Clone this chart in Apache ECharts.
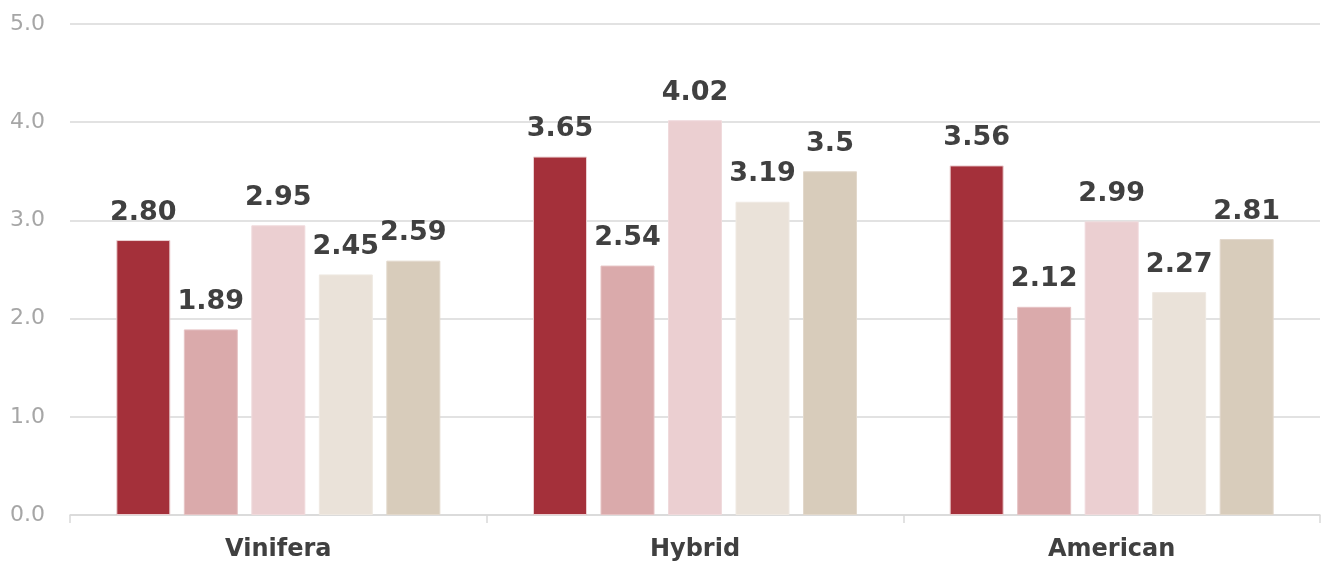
<!DOCTYPE html>
<html>
<head>
<meta charset="utf-8">
<script src="https://cdn.jsdelivr.net/npm/echarts@6/dist/echarts.min.js"></script>
<style>html,body{margin:0;padding:0;background:#fff}#c{width:1325px;height:563px}</style>
</head>
<body>
<div id="c"></div>
<script>
const categories = ['Vinifera', 'Hybrid', 'American'];
const yTicks = ['0.0', '1.0', '2.0', '3.0', '4.0', '5.0'];
const s1 = [2.80, 3.65, 3.56];
const s2 = [1.89, 2.54, 2.12];
const s3 = [2.95, 4.02, 2.99];
const s4 = [2.45, 3.19, 2.27];
const s5 = [2.59, 3.5, 2.81];
const l1 = ['2.80', '3.65', '3.56'];
const l2 = ['1.89', '2.54', '2.12'];
const l3 = ['2.95', '4.02', '2.99'];
const l4 = ['2.45', '3.19', '2.27'];
const l5 = ['2.59', '3.5', '2.81'];

const colors = ['#A4303A', '#DAAAAB', '#EBCFD1', '#EAE2D9', '#D8CCBB'];
const borders = ['#EBCFD1', '#E6C3C4', '#F0DADC', '#EFE9E2', '#E2D8CB'];
const values = [s1, s2, s3, s4, s5];
const labels = [l1, l2, l3, l4, l5];
const FONT = 'DejaVu Sans, sans-serif';

const chart = echarts.init(document.getElementById('c'), null, {renderer: 'canvas'});
chart.setOption({
  animation: false,
  backgroundColor: '#fff',
  grid: {left: 70, right: 5, top: 24, bottom: 48, containLabel: false},
  xAxis: {
    type: 'category',
    data: categories,
    axisLine: {lineStyle: {color: '#d9d9d9', width: 1.5}},
    axisTick: {show: true, alignWithLabel: false, length: 8, lineStyle: {color: '#d9d9d9', width: 1.5}},
    axisLabel: {color: '#404040', fontSize: 24, fontWeight: 'bold', fontFamily: FONT, margin: 23}
  },
  yAxis: {
    type: 'value',
    min: 0, max: 5, interval: 1,
    axisLine: {show: false},
    axisTick: {show: false},
    splitLine: {lineStyle: {color: '#d9d9d9', width: 1.5}},
    axisLabel: {
      color: '#a6a6a6', fontSize: 22, fontFamily: FONT, margin: 25,
      formatter: function (v) { return yTicks[Math.round(v)]; }
    }
  },
  series: values.map(function (vals, i) {
    return {
      type: 'bar',
      barWidth: 54,
      barGap: '25%',
      data: vals,
      itemStyle: {color: colors[i], borderColor: borders[i], borderWidth: 1},
      label: {
        show: true, position: 'top', distance: 14,
        color: '#404040', fontSize: 27, fontWeight: 'bold',
        fontFamily: FONT,
        formatter: function (p) { return labels[i][p.dataIndex]; }
      }
    };
  })
});
</script>
</body>
</html>
